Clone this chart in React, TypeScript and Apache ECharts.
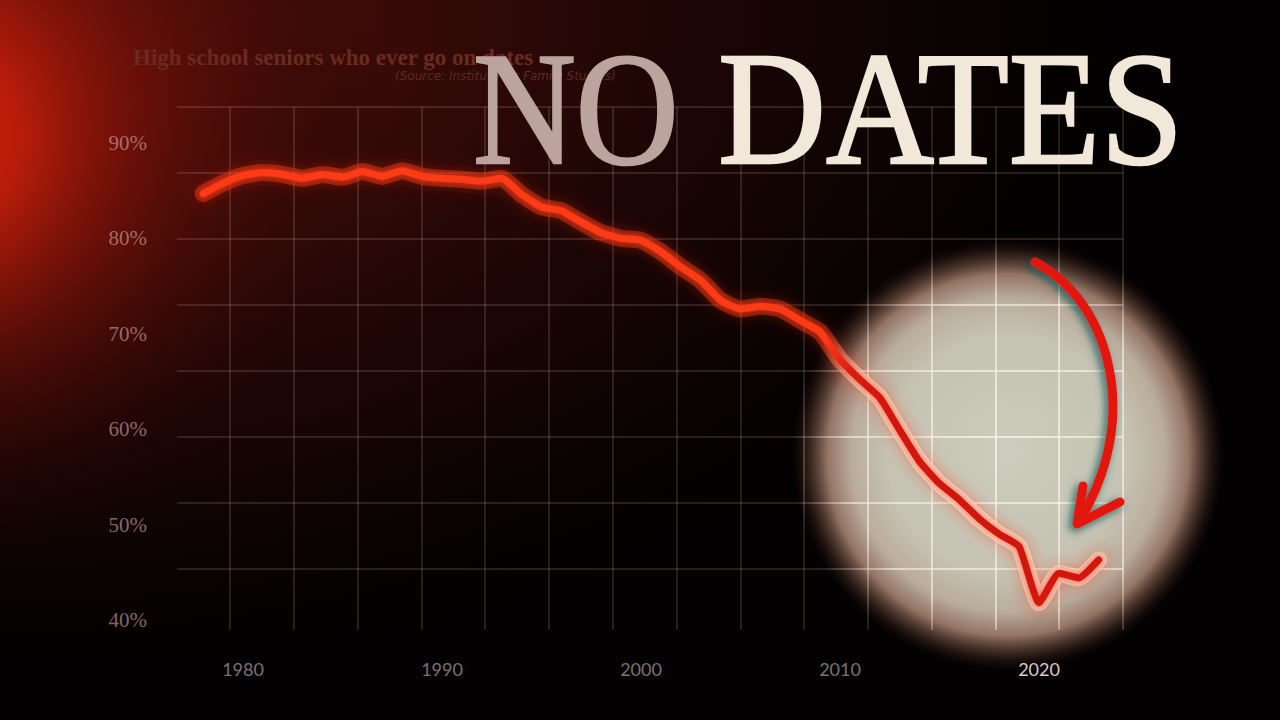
import React, { useEffect, useRef } from "react";
import * as echarts from "echarts";

const YEARS = [
  1978, 1979, 1980, 1981, 1982, 1983, 1984, 1985, 1986, 1987, 1988, 1989,
  1990, 1991, 1992, 1993, 1994, 1995, 1996, 1997, 1998, 1999, 2000, 2001,
  2002, 2003, 2004, 2005, 2006, 2007, 2008, 2009, 2010, 2011, 2012, 2013,
  2014, 2015, 2016, 2017, 2018, 2019, 2020, 2021, 2022, 2023,
];
const DATING_SHARE = [
  84.7, 85.8, 86.6, 86.9, 86.7, 86.3, 86.7, 86.4, 87.0, 86.5, 87.1, 86.5,
  86.3, 86.2, 86.0, 86.3, 84.6, 83.3, 82.9, 81.7, 80.6, 80.0, 79.8, 78.6,
  77.0, 75.6, 73.5, 72.6, 72.9, 72.6, 71.4, 70.2, 67.3, 65.2, 63.3, 59.9,
  56.6, 54.3, 52.6, 50.6, 49.0, 47.7, 41.8, 44.9, 44.4, 46.3,
];
const X_LABEL_YEARS = [1980, 1990, 2000, 2010, 2020];
const Y_MIN = 40;
const Y_MAX = 90;
const Y_STEP = 10;

const TITLE = "High school seniors who ever go on dates";
const SOURCE = "(Source: Institute for Family Studies)";
const HEADLINE_A = "NO";
const HEADLINE_B = "DATES";

const ARROW_PATH =
  "M1035,262 C1080,286 1106,332 1112,387 C1117,437 1102,485 1078,523 M1083,486 L1077,524 L1120,502";

echarts.graphic.registerShape(
  "arrowStroke",
  echarts.graphic.extendPath(ARROW_PATH, {})
);

const SX = 1008;
const SY = 455;
const SR = 218;

function radial(x: number, y: number, r: number, stops: [number, string][], global = true) {
  return {
    type: "radial",
    x,
    y,
    r,
    global,
    colorStops: stops.map(([offset, color]) => ({ offset, color })),
  };
}

export default function App() {
  const ref = useRef<HTMLDivElement>(null);

  useEffect(() => {
    if (!ref.current) return;
    const chart = echarts.init(ref.current, null, { renderer: "svg" });

    const pxPerYear = 19.9;
    const gridLeft = 150;
    const gridWidth = 1000;
    const xMin = 1980 - (243 - gridLeft) / pxPerYear;
    const xMax = xMin + gridWidth / pxPerYear;

    const spotGrid = radial(SX, SY, SR, [
      [0, "rgba(250,244,234,0.8)"],
      [0.75, "rgba(248,238,228,0.62)"],
      [0.92, "rgba(220,190,180,0.28)"],
      [1, "rgba(255,215,205,0.135)"],
    ]);
    const coreColor = radial(SX, SY, SR, [
      [0, "#cc150e"],
      [0.8, "#d61a10"],
      [1, "#ff3a18"],
    ]);
    const haloColor = radial(SX, SY, SR, [
      [0, "rgba(255,222,205,0.7)"],
      [0.8, "rgba(255,200,180,0.6)"],
      [1, "rgba(255,50,20,0.42)"],
    ]);

    const data = YEARS.map((y, i) => [y, DATING_SHARE[i]]);

    const option: any = {
      animation: false,
      backgroundColor: "#030101",
      grid: [
        { left: gridLeft, top: 143, width: gridWidth, height: 477 },
        { left: 166.2, top: 107, width: 956.8, height: 523 },
        { left: 177, top: 107, width: 946, height: 462 },
      ],
      xAxis: [
        {
          type: "value",
          gridIndex: 0,
          min: xMin,
          max: xMax,
          axisLine: { show: false },
          axisTick: { show: false },
          splitLine: { show: false },
          axisLabel: {
            customValues: X_LABEL_YEARS,
            formatter: (v: number) => String(Math.round(v)),
            margin: 40,
            fontFamily: "Lato",
            fontSize: 18,
            color: (v: any) =>
              Number(v) >= 2020 ? "#d8ccc4" : "rgba(225,212,208,0.55)",
          },
        },
        {
          type: "value",
          gridIndex: 1,
          min: 0,
          max: 15,
          interval: 1,
          axisLine: { show: false },
          axisTick: { show: false },
          axisLabel: { show: false },
          splitLine: {
            show: true,
            showMinLine: false,
            lineStyle: { color: spotGrid, width: 2 },
          },
        },
        {
          type: "value",
          gridIndex: 2,
          min: 0,
          max: 1,
          show: false,
        },
      ],
      yAxis: [
        {
          type: "value",
          gridIndex: 0,
          min: Y_MIN,
          max: Y_MAX,
          interval: Y_STEP,
          axisLine: { show: false },
          axisTick: { show: false },
          splitLine: { show: false },
          axisLabel: {
            formatter: "{value}%",
            margin: 3,
            fontFamily: "Liberation Serif",
            fontSize: 21,
            color: "rgba(210,170,164,0.62)",
          },
        },
        {
          type: "value",
          gridIndex: 1,
          min: 0,
          max: 1,
          show: false,
        },
        {
          type: "value",
          gridIndex: 2,
          min: 0,
          max: 7,
          interval: 1,
          axisLine: { show: false },
          axisTick: { show: false },
          axisLabel: { show: false },
          splitLine: {
            show: true,
            lineStyle: { color: spotGrid, width: 2 },
          },
        },
      ],
      series: [
        {
          type: "line",
          xAxisIndex: 0,
          yAxisIndex: 0,
          data,
          symbol: "none",
          silent: true,
          smooth: 0.15,
          z: 3,
          lineStyle: {
            width: 17,
            color: haloColor,
            cap: "round",
            join: "round",
            shadowBlur: 16,
            shadowColor: "rgba(255,45,10,0.6)",
          },
        },
        {
          type: "line",
          xAxisIndex: 0,
          yAxisIndex: 0,
          data,
          symbol: "none",
          silent: true,
          smooth: 0.15,
          z: 4,
          lineStyle: {
            width: 7,
            color: coreColor,
            cap: "round",
            join: "round",
            shadowBlur: 6,
            shadowColor: "rgba(255,70,30,0.7)",
          },
        },
      ],
      graphic: {
        elements: [
          {
            type: "circle",
            z: -10,
            silent: true,
            x: -20,
            y: 20,
            scaleX: 1.75,
            shape: { cx: 0, cy: 0, r: 700 },
            style: {
              fill: radial(0.5, 0.5, 0.5, [
                [0, "rgba(100,17,10,1)"],
                [0.25, "rgba(66,12,8,1)"],
                [0.5, "rgba(36,7,6,1)"],
                [0.75, "rgba(16,4,3,0.85)"],
                [1, "rgba(0,0,0,0)"],
              ], false),
            },
          },
          {
            type: "circle",
            z: -9,
            silent: true,
            shape: { cx: -80, cy: 140, r: 470 },
            style: {
              fill: radial(0.5, 0.5, 0.5, [
                [0, "rgba(220,36,12,1)"],
                [0.22, "rgba(195,30,10,0.88)"],
                [0.45, "rgba(135,19,8,0.55)"],
                [0.72, "rgba(70,10,6,0.22)"],
                [1, "rgba(0,0,0,0)"],
              ], false),
            },
          },
          {
            type: "circle",
            z: -8,
            silent: true,
            shape: { cx: SX, cy: SY, r: SR },
            style: {
              fill: radial(0.5, 0.5, 0.5, [
                [0, "#cbccbd"],
                [0.55, "#c5c3b3"],
                [0.72, "#baac9c"],
                [0.83, "#937464"],
                [0.91, "rgba(80,54,44,0.7)"],
                [0.97, "rgba(30,18,14,0.3)"],
                [1, "rgba(0,0,0,0)"],
              ], false),
            },
          },
          {
            type: "text",
            z: 50,
            silent: true,
            x: 133,
            y: 57,
            style: {
              text: TITLE,
              font: 'bold 23px "Liberation Serif"',
              fill: "#6a2a1f",
              verticalAlign: "middle",
            },
          },
          {
            type: "text",
            z: 50,
            silent: true,
            x: 395,
            y: 76,
            style: {
              text: SOURCE,
              font: 'italic 12px "DejaVu Sans"',
              fill: "#5c2a22",
              verticalAlign: "middle",
            },
          },
          {
            type: "text",
            z: 60,
            silent: true,
            x: 473,
            y: 109,
            scaleX: 0.89,
            style: {
              text: HEADLINE_A,
              font: '160px "Liberation Serif"',
              fill: "#bba49d",
              stroke: "#bba49d",
              lineWidth: 2.5,
              verticalAlign: "middle",
            },
          },
          {
            type: "text",
            z: 60,
            silent: true,
            x: 718,
            y: 109,
            scaleX: 0.935,
            style: {
              text: HEADLINE_B,
              font: '160px "Liberation Serif"',
              fill: "#f2e8da",
              stroke: "#f2e8da",
              lineWidth: 2.5,
              verticalAlign: "middle",
            },
          },
          {
            type: "arrowStroke",
            z: 70,
            silent: true,
            x: 0,
            y: 0,
            style: {
              fill: "none",
              stroke: "#e3170e",
              lineWidth: 9,
              lineCap: "round",
              lineJoin: "round",
              shadowColor: "rgba(10,85,85,0.85)",
              shadowBlur: 8,
              shadowOffsetX: -3,
              shadowOffsetY: 3,
            },
          },
        ],
      },
    };

    chart.setOption(option);
    return () => chart.dispose();
  }, []);

  return (
    <div
      ref={ref}
      style={{ position: "fixed", left: 0, top: 0, width: 1280, height: 720 }}
    />
  );
}
